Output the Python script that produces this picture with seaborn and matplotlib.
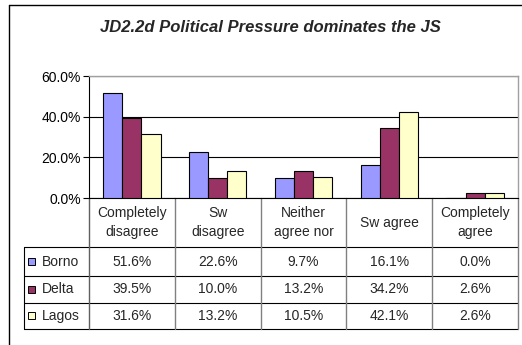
import pandas as pd
import seaborn as sns
import matplotlib
matplotlib.use('Agg')  # Use non-interactive backend
import matplotlib.pyplot as plt
from matplotlib.lines import Line2D
from matplotlib.patches import Rectangle

title = "JD2.2d Political Pressure dominates the JS"
categories = ["Completely\ndisagree", "Sw\ndisagree", "Neither\nagree nor", "Sw agree", "Completely\nagree"]
regions = ["Borno", "Delta", "Lagos"]
borno = [51.6, 22.6, 9.7, 16.1, 0.0]
delta = [39.5, 10.0, 13.2, 34.2, 2.6]
lagos = [31.6, 13.2, 10.5, 42.1, 2.6]
y_ticks = [0, 20, 40, 60]
colors = ["#9999FF", "#993366", "#FFFFCC"]

# long format table for seaborn
rows = []
for region, values in zip(regions, [borno, delta, lagos]):
    for cat, val in zip(categories, values):
        rows.append({"category": cat, "region": region, "value": val})
df = pd.DataFrame(rows)

sns.set_theme(style="white")
plt.rcParams['font.family'] = ['Liberation Sans', 'DejaVu Sans']

W, H = 522, 345
fig = plt.figure(figsize=(W / 100, H / 100), dpi=100)
# plot area in pixels: x 89..518, y 76..198
ax = fig.add_axes([89 / W, 1 - 198 / H, (518 - 89) / W, (198 - 76) / H])

sns.barplot(data=df, x="category", y="value", hue="region", order=categories,
            hue_order=regions, palette=colors, width=0.67, edgecolor="black",
            linewidth=0.8, saturation=1, legend=False, ax=ax, zorder=3)

ax.set_xlim(-0.5, len(categories) - 0.5)
ax.set_ylim(0, 60)
ax.set_yticks(y_ticks)
ax.set_yticklabels([f"{t:.1f}%" for t in y_ticks], fontsize=10, color="black")
ax.tick_params(axis="y", length=4, width=0.8, color="black", pad=2, left=True)
ax.tick_params(axis="x", length=0, labelbottom=False)
ax.set_xlabel("")
ax.set_ylabel("")
ax.set_axisbelow(True)
ax.yaxis.grid(True, color="black", linewidth=0.8)

for side in ["top", "right"]:
    ax.spines[side].set_color("#A0A0A0")
    ax.spines[side].set_linewidth(1.0)
for side in ["left", "bottom"]:
    ax.spines[side].set_color("black")
    ax.spines[side].set_linewidth(0.8)

fig.suptitle(title, x=270 / W, y=1 - 27 / H, va="center", fontsize=12,
             fontweight="bold", fontstyle="italic")

# data table under the plot (y in axes fraction, x in data units)
trans = ax.get_xaxis_transform()
px_y = lambda p: (198 - p) / (198 - 76)
header_mid = px_y(222.7)
row_lines = [px_y(247.3), px_y(276), px_y(302.7), px_y(329)]
legend_left = -0.5 + (24.3 - 89) / ((518 - 89) / len(categories))
n = len(categories)

for i, cat in enumerate(categories):
    ax.text(i, header_mid, cat, transform=trans, ha="center", va="center",
            fontsize=10, linespacing=1.45, clip_on=False)

for line_y in row_lines:
    ax.add_line(Line2D([legend_left, n - 0.5], [line_y, line_y], transform=trans,
                       color="black", linewidth=0.8, clip_on=False))
for k in range(n + 1):
    ax.add_line(Line2D([k - 0.5, k - 0.5], [0, row_lines[-1]], transform=trans,
                       color="#808080" if k > 0 else "#606060", linewidth=1.0, clip_on=False))
ax.add_line(Line2D([legend_left, legend_left], [row_lines[0], row_lines[-1]], transform=trans,
                   color="black", linewidth=0.8, clip_on=False))

sq_w = 7 / ((518 - 89) / n)
sq_h = 7 / (198 - 76)
for r, (region, values) in enumerate(zip(regions, [borno, delta, lagos])):
    mid = (row_lines[r] + row_lines[r + 1]) / 2
    ax.add_patch(Rectangle((legend_left + 4 / 85.8, mid - sq_h / 2), sq_w, sq_h,
                           transform=trans, facecolor=colors[r], edgecolor="black",
                           linewidth=0.7, clip_on=False))
    ax.text(legend_left + 17.4 / 85.8, mid, region, transform=trans, ha="left",
            va="center", fontsize=10, clip_on=False)
    for i, val in enumerate(values):
        ax.text(i, mid, f"{val:.1f}%", transform=trans, ha="center", va="center",
                fontsize=10, clip_on=False)

# outer chart frame (clipped at right and bottom in the original)
fig.add_artist(Line2D([9.3 / W, 9.3 / W], [0, 1 - 5 / H], color="black", linewidth=1.0))
fig.add_artist(Line2D([9.3 / W, 1], [1 - 5 / H, 1 - 5 / H], color="black", linewidth=1.0))

fig.savefig("out.png", dpi=100, facecolor="white")
